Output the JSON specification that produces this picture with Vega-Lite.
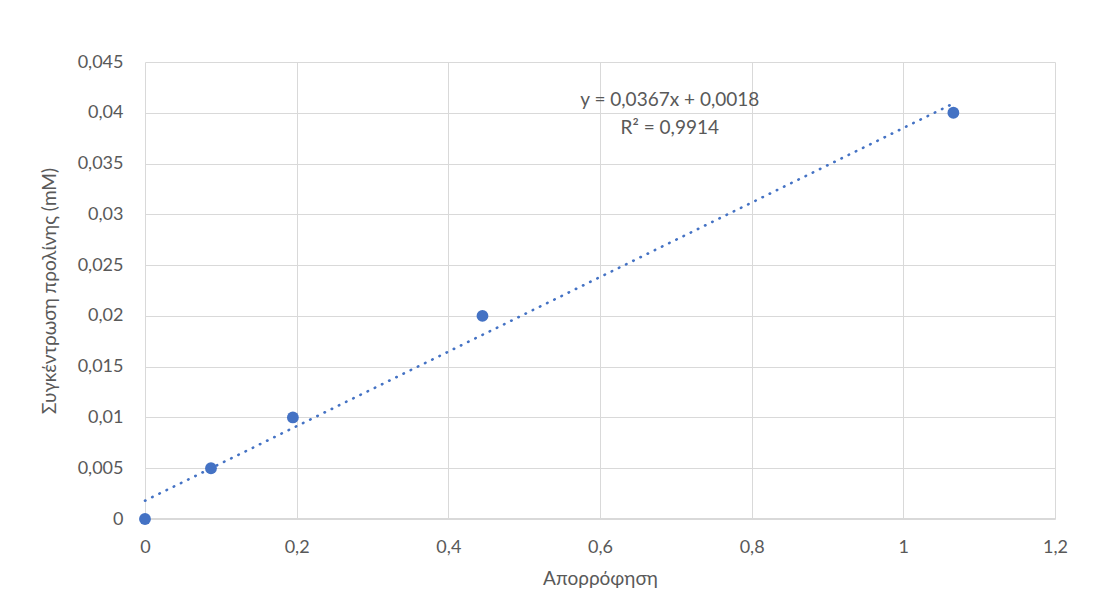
{
  "$schema": "https://vega.github.io/schema/vega-lite/v6.json",
  "width": 910,
  "height": 457,
  "autosize": {"type": "none"},
  "padding": {"left": 145, "top": 62, "right": 50, "bottom": 86},
  "background": "white",
  "config": {
    "locale": {"number": {"decimal": ",", "thousands": ".", "grouping": [3], "currency": ["", " €"]}},
    "view": {"stroke": null},
    "font": "Lato",
    "axis": {
      "labelFont": "Lato", "labelFontSize": 18, "labelColor": "#595959", "labelFlush": false,
      "titleFont": "Lato", "titleFontSize": 19, "titleColor": "#595959", "titleFontWeight": "normal",
      "gridColor": "#d9d9d9", "gridWidth": 1, "ticks": false, "domain": false
    }
  },
  "datasets": {
    "pts": [
      {"abs": 0, "conc": 0},
      {"abs": 0.087, "conc": 0.005},
      {"abs": 0.195, "conc": 0.01},
      {"abs": 0.445, "conc": 0.02},
      {"abs": 1.066, "conc": 0.04}
    ],
    "trend": [
      {"abs": 0, "conc": 0.0018},
      {"abs": 1.066, "conc": 0.04092}
    ],
    "eq": [
      {"abs": 0.692, "conc": 0.0413, "label": "y = 0,0367x + 0,0018"},
      {"abs": 0.692, "conc": 0.0385, "label": "R² = 0,9914"}
    ]
  },
  "layer": [
    {
      "data": {"values": [{"v": 0}]},
      "mark": {"type": "rule", "color": "#d9d9d9", "strokeWidth": 2},
      "encoding": {"y": {"field": "v", "type": "quantitative"}}
    },
    {
      "data": {"name": "trend"},
      "mark": {"type": "line", "color": "#4472c4", "strokeWidth": 2.6, "strokeDash": [0.5, 7.5], "strokeCap": "round"},
      "encoding": {
        "x": {"field": "abs", "type": "quantitative", "scale": {"domain": [0, 1.2], "nice": false},
              "axis": {"title": "Απορρόφηση", "format": ".1~f", "values": [0, 0.2, 0.4, 0.6, 0.8, 1, 1.2], "labelPadding": 19, "titlePadding": 13}},
        "y": {"field": "conc", "type": "quantitative", "scale": {"domain": [0, 0.045], "nice": false},
              "axis": {"title": "Συγκέντρωση προλίνης  (mM)", "format": ".3~f", "values": [0, 0.005, 0.01, 0.015, 0.02, 0.025, 0.03, 0.035, 0.04, 0.045], "labelPadding": 22, "titlePadding": 18}}
      }
    },
    {
      "data": {"name": "pts"},
      "mark": {"type": "point", "filled": true, "color": "#4472c4", "opacity": 1, "size": 140},
      "encoding": {
        "x": {"field": "abs", "type": "quantitative"},
        "y": {"field": "conc", "type": "quantitative"}
      }
    },
    {
      "data": {"name": "eq"},
      "mark": {"type": "text", "fontSize": 19, "color": "#595959", "font": "Lato", "align": "center", "baseline": "middle"},
      "encoding": {
        "x": {"field": "abs", "type": "quantitative"},
        "y": {"field": "conc", "type": "quantitative"},
        "text": {"field": "label"}
      }
    }
  ]
}
